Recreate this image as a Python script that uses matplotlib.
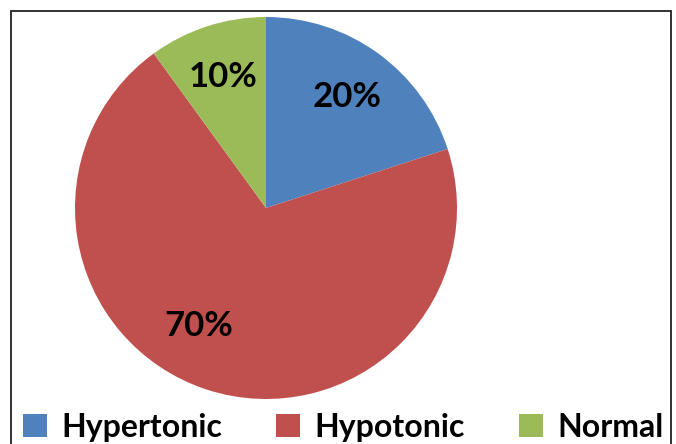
import matplotlib.pyplot as plt
from matplotlib.patches import Rectangle

labels = ['Hypertonic', 'Hypotonic', 'Normal']
values = [20, 70, 10]
colors = ['#4F81BD', '#C0504D', '#9BBB59']

plt.rcParams['font.family'] = ['Lato', 'DejaVu Sans']

W, H = 676, 444
fig = plt.figure(figsize=(W / 100, H / 100), dpi=100)

# chart border (bottom edge runs off the image)
fig.patches.append(Rectangle((11 / W, -0.1), 660 / W, (H - 11) / H + 0.1,
                             transform=fig.transFigure, fill=False,
                             edgecolor='#222222', linewidth=1.3))

# pie centre ~ (266, 208) px, radius ~191 px
cx, cy, r = 266, 208, 191
ax = fig.add_axes([(cx - r) / W, (H - cy - r) / H, 2 * r / W, 2 * r / H])
wedges, texts, autotexts = ax.pie(values, colors=colors, startangle=90,
                                  counterclock=False, autopct='%d%%',
                                  pctdistance=0.72,
                                  wedgeprops=dict(linewidth=0))
ax.set_xlim(-1, 1)
ax.set_ylim(-1, 1)
ax.axis('off')
for t in autotexts:
    t.set_fontsize(25)
    t.set_fontweight('bold')
    t.set_color('black')
autotexts[1].set_position((-0.35, -0.62))

leg = fig.legend(wedges, labels, loc='center', bbox_to_anchor=(0.508, (H - 427) / H),
                 ncol=3, frameon=False, handlelength=0.75, handleheight=0.75,
                 handletextpad=0.45, columnspacing=1.7, borderpad=0,
                 prop=dict(size=23, weight='bold'))

fig.savefig('out.png', dpi=100)
